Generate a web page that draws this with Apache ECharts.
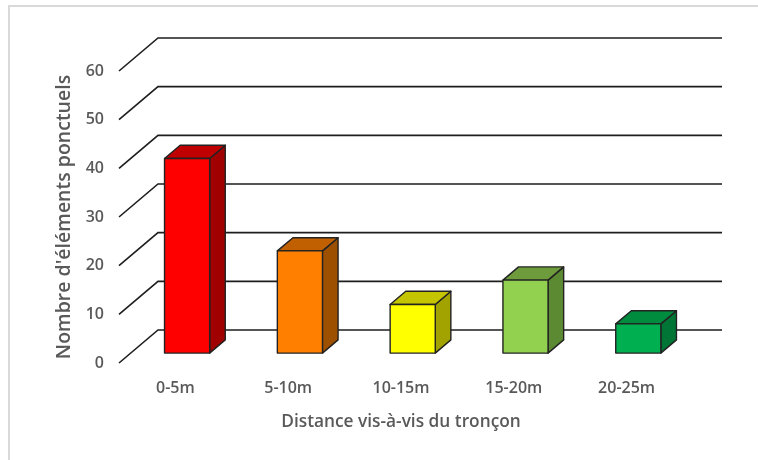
<!DOCTYPE html>
<html>
<head>
<meta charset="utf-8">
<script src="https://cdn.jsdelivr.net/npm/echarts@6/dist/echarts.min.js"></script>
<style>
  html, body { margin: 0; padding: 0; background: #ffffff; }
  #chart { width: 758px; height: 460px; }
</style>
</head>
<body>
<div id="chart"></div>
<script>
// Categories and counts
const categories = ['0-5m', '5-10m', '10-15m', '15-20m', '20-25m'];
const counts = [40, 21, 10, 15, 6];
const yTicks = [0, 10, 20, 30, 40, 50, 60];

// Face colours for each bar: front, top, right side
const frontColors = ['#FF0000', '#FF8000', '#FFFF00', '#92D050', '#00B050'];
const topColors   = ['#C00000', '#C06000', '#C4C400', '#6E9C3C', '#008C3E'];
const sideColors  = ['#A00000', '#9C5000', '#A3A300', '#5C8A32', '#007535'];

// Oblique depth of the floor (front edge to back wall)
const DEPTH_DX = 39;
const DEPTH_DY = -33;
const BAR_FRONT = 0.3;   // bar front face, as a fraction of depth
const BAR_BACK = 0.7;    // bar back face
const BAR_WIDTH = 0.4;   // fraction of the category band

const FONT = '"Open Sans", "Noto Sans", sans-serif';
const TEXT_COLOR = '#595959';

const chart = echarts.init(document.getElementById('chart'), null, { renderer: 'canvas' });

function renderGridLine(params, api) {
  const cs = params.coordSys;
  const y = api.coord([0, api.value(0)])[1];
  const x0 = cs.x;
  const x1 = cs.x + cs.width;
  return {
    type: 'polyline',
    shape: {
      points: [
        [x0, y],
        [x0 + DEPTH_DX, y + DEPTH_DY],
        [x1 + DEPTH_DX, y + DEPTH_DY]
      ]
    },
    style: { stroke: '#1e1e1e', lineWidth: 1.6, fill: null }
  };
}

function renderBar(params, api) {
  const i = api.value(0);
  const v = api.value(1);
  const top = api.coord([i, v]);
  const base = api.coord([i, 0]);
  const w = api.size([1, 0])[0] * BAR_WIDTH;
  const xl = top[0] - w / 2;
  const xr = top[0] + w / 2;
  const fx = DEPTH_DX * BAR_FRONT, fy = DEPTH_DY * BAR_FRONT;
  const bx = DEPTH_DX * BAR_BACK, by = DEPTH_DY * BAR_BACK;
  const yt = top[1], yb = base[1];
  const edge = { stroke: '#222222', lineWidth: 1.4, lineJoin: 'round' };
  return {
    type: 'group',
    children: [
      {
        type: 'polygon',
        shape: { points: [[xr + fx, yt + fy], [xr + bx, yt + by], [xr + bx, yb + by], [xr + fx, yb + fy]] },
        style: Object.assign({ fill: sideColors[i] }, edge)
      },
      {
        type: 'polygon',
        shape: { points: [[xl + fx, yt + fy], [xr + fx, yt + fy], [xr + bx, yt + by], [xl + bx, yt + by]] },
        style: Object.assign({ fill: topColors[i] }, edge)
      },
      {
        type: 'rect',
        shape: { x: xl + fx, y: yt + fy, width: w, height: yb - yt },
        style: Object.assign({ fill: frontColors[i] }, edge)
      }
    ]
  };
}

const option = {
  backgroundColor: '#ffffff',
  animation: false,
  graphic: [
    {
      type: 'rect',
      shape: { x: 9, y: 6, width: 780, height: 480 },
      style: { fill: null, stroke: '#D9D9D9', lineWidth: 2 },
      silent: true
    }
  ],
  grid: { left: 119, right: 75, top: 71, bottom: 97 },
  xAxis: {
    type: 'category',
    data: categories,
    axisLine: { show: false },
    axisTick: { show: false },
    axisLabel: {
      margin: 17,
      color: TEXT_COLOR,
      fontFamily: FONT,
      fontSize: 16,
      fontWeight: 600
    },
    name: 'Distance vis-à-vis du tronçon',
    nameLocation: 'middle',
    nameGap: 51,
    nameTextStyle: {
      color: TEXT_COLOR,
      fontFamily: FONT,
      fontSize: 17.3,
      fontWeight: 600
    }
  },
  yAxis: {
    type: 'value',
    min: 0,
    max: 60,
    interval: 10,
    splitLine: { show: false },
    axisLine: { show: false },
    axisTick: { show: false },
    axisLabel: {
      margin: 15,
      color: TEXT_COLOR,
      fontFamily: FONT,
      fontSize: 16,
      fontWeight: 600
    },
    name: "Nombre d'éléments ponctuels",
    nameLocation: 'middle',
    nameGap: 38,
    nameTextStyle: {
      color: TEXT_COLOR,
      fontFamily: FONT,
      fontSize: 19.5,
      fontWeight: 600
    }
  },
  series: [
    {
      type: 'custom',
      name: 'grid',
      z: 1,
      silent: true,
      renderItem: renderGridLine,
      data: yTicks.map(t => [t])
    },
    {
      type: 'custom',
      name: 'bars',
      z: 2,
      renderItem: renderBar,
      encode: { x: 0, y: 1 },
      data: counts.map((c, i) => [i, c])
    }
  ]
};

chart.setOption(option);
</script>
</body>
</html>
